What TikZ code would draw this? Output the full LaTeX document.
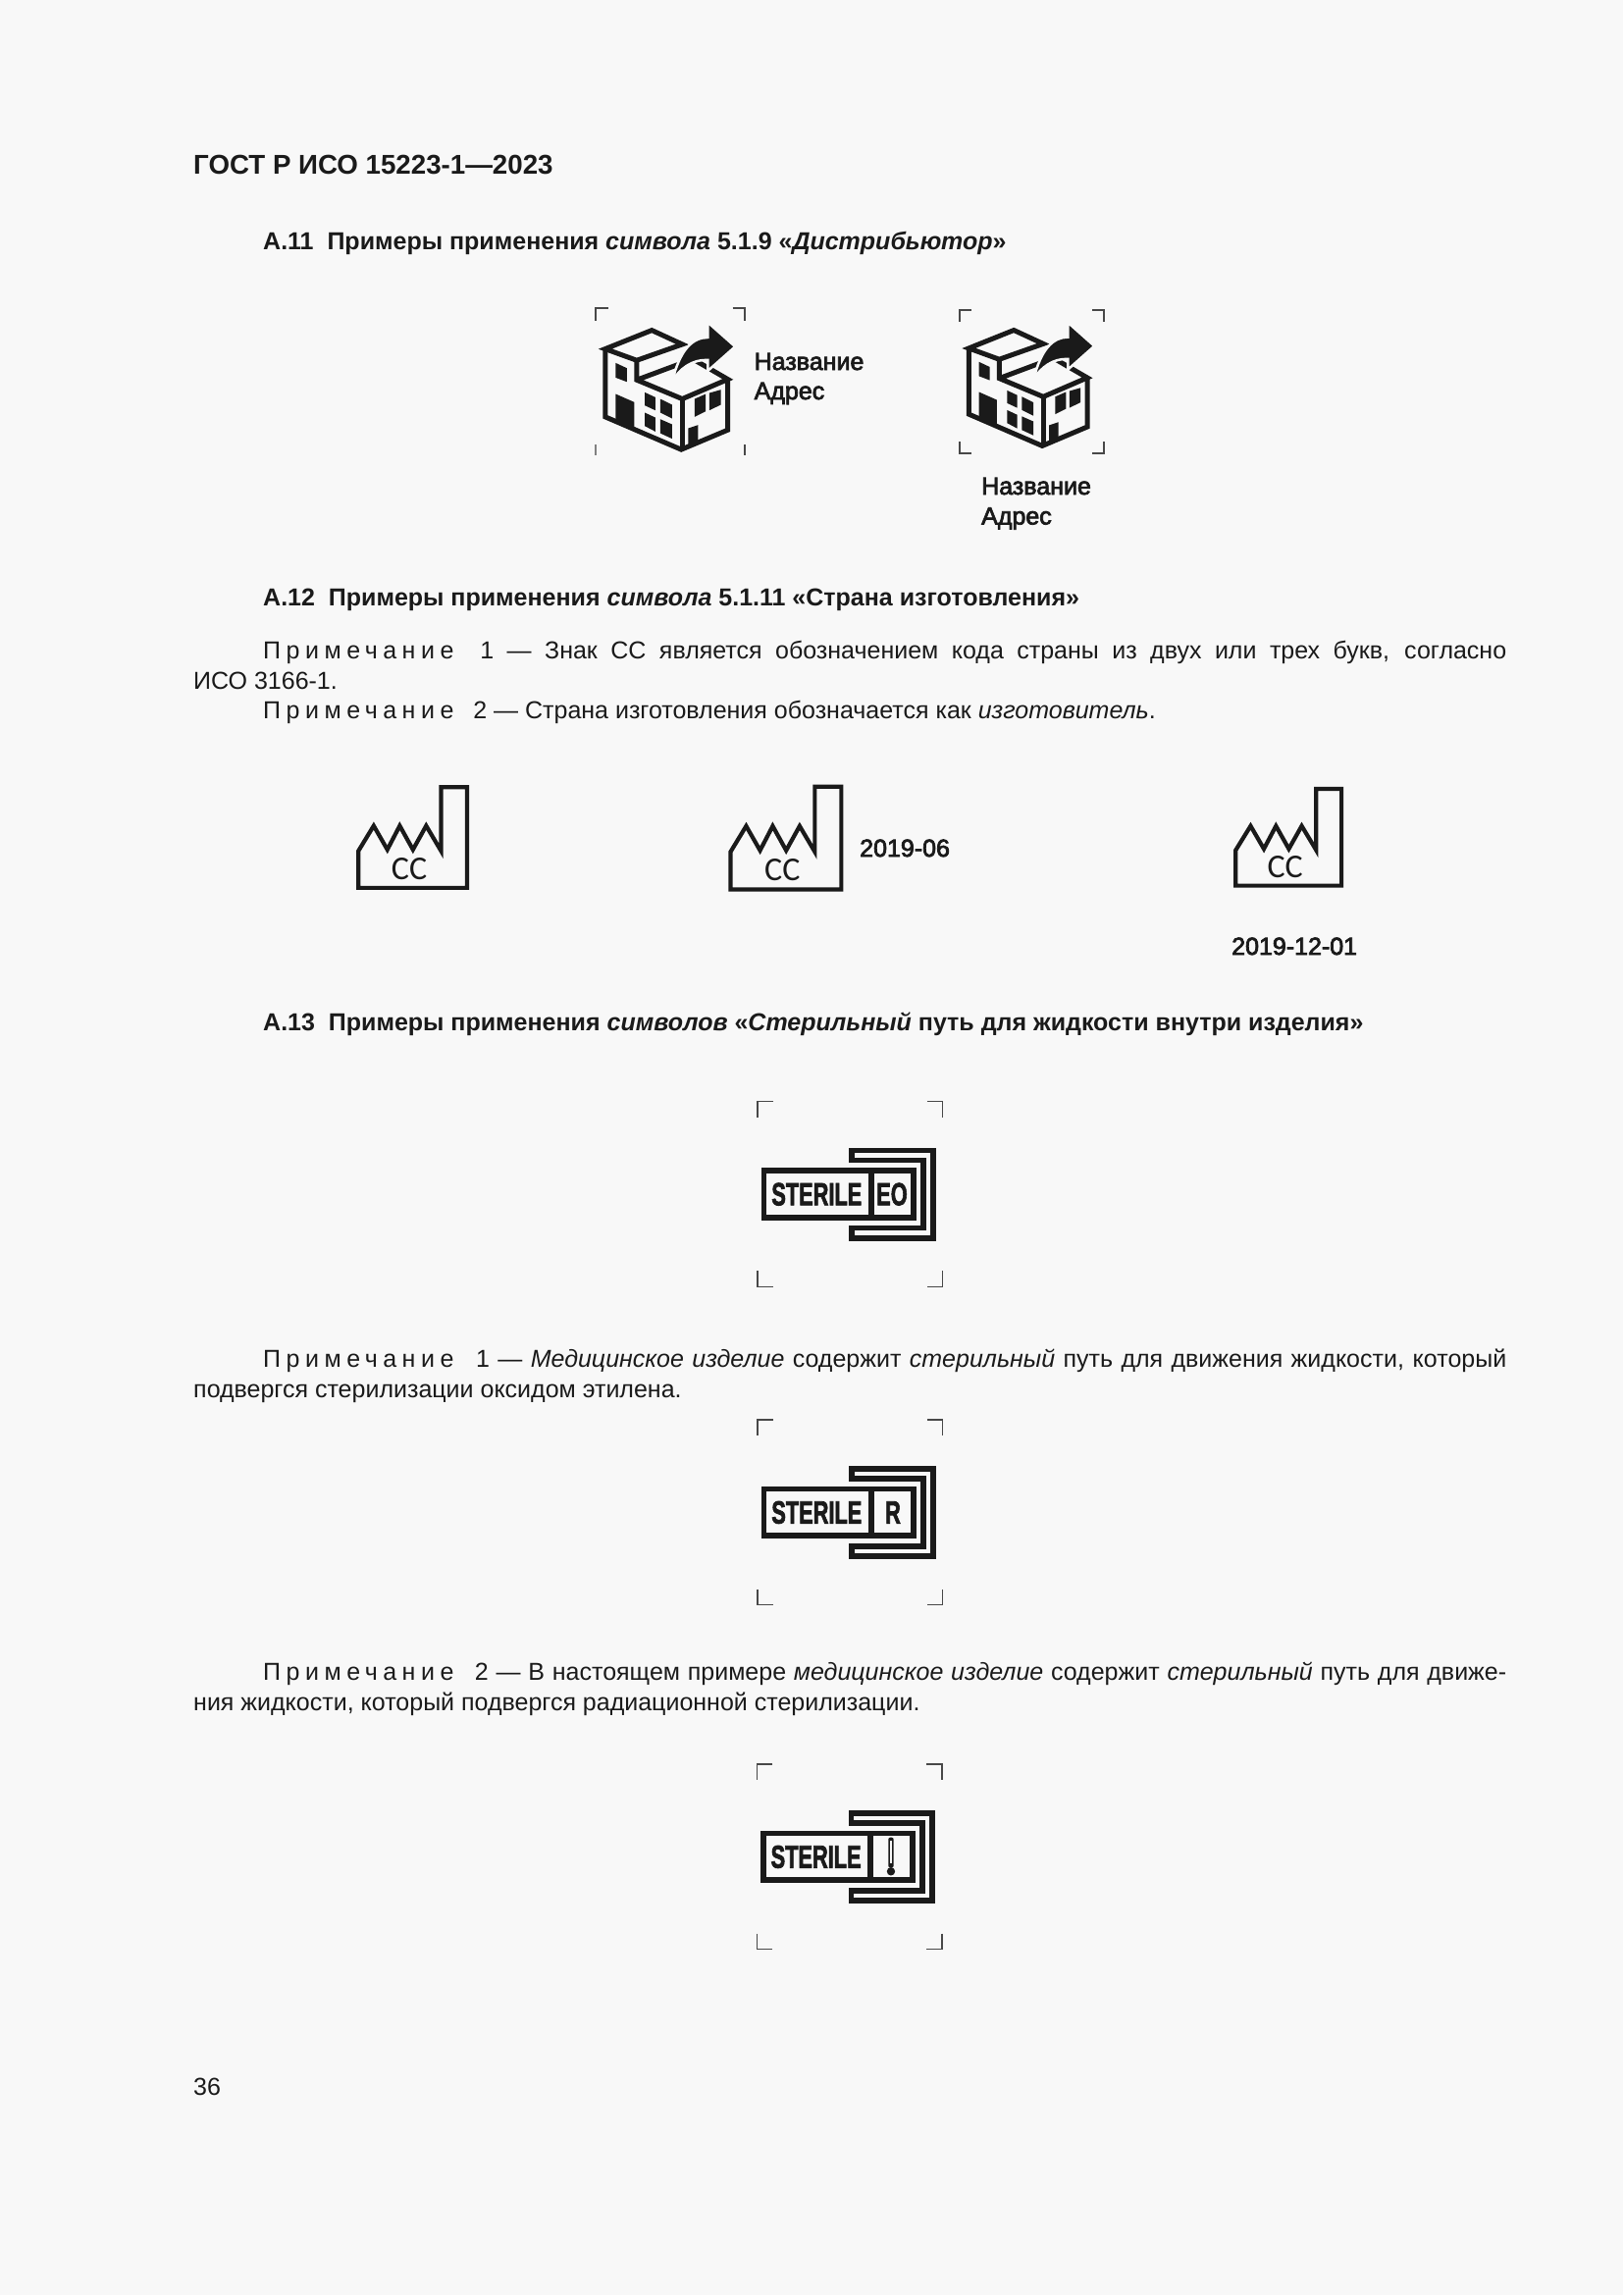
\documentclass[tikz,border=0pt]{standalone}
\usepackage{fontspec}
\setmainfont{Liberation Sans}
\newfontfamily\ccfont{Carlito}
\newfontfamily\heavyfont[FakeBold=3]{Liberation Sans}
\newfontfamily\sterfont[FakeBold=2.5]{Liberation Sans Bold}
\definecolor{inkc}{HTML}{1A1A1A}
\definecolor{paperc}{HTML}{F8F8F8}
\tikzset{
  txt/.style={anchor=base west,inner sep=0pt,text=inkc,font=\fontsize{25}{30}\selectfont},
  hdg/.style={txt,font=\fontsize{25}{30}\selectfont\bfseries},
  lbl/.style={txt,font=\fontsize{25}{30}\heavyfont},
  cropm/.style={draw=inkc!80,line width=1.6pt},
  iconline/.style={draw=inkc,line join=miter},
  iconfill/.style={fill=inkc,draw=none},
  sterbig/.style={anchor=base,inner sep=0pt,text=inkc,xscale=.67,transform shape,font=\fontsize{32.5}{32.5}\sterfont}
}
\newcommand{\prim}{{\addfontfeature{LetterSpace=22}Примечание}}
% x1 y1 x2 y2 arm
\newcommand{\cropsquare}[5]{
  \draw [cropm] (#1+#5,#2) -- (#1,#2) -- (#1,#2+#5);
  \draw [cropm] (#3-#5,#2) -- (#3,#2) -- (#3,#2+#5);
  \draw [cropm] (#1,#4-#5) -- (#1,#4) -- (#1+#5,#4);
  \draw [cropm] (#3,#4-#5) -- (#3,#4) -- (#3-#5,#4);
}
\newcommand{\distbuilding}{
  \draw [iconline,line width=5pt] (75,197) -- (208,140) -- (295,183) -- (165,232) -- cycle;
  \draw [iconline,line width=5pt] (165,232) -- (165,292) -- (295,350) -- (425,290) -- (325,228) -- (165,292);
  \draw [iconline,line width=5pt] (75,197) -- (75,405) -- (292,505) -- (425,445) -- (425,290);
  \draw [iconline,line width=5pt] (295,350) -- (295,505);
  \draw [iconfill,draw=paperc,fill=inkc,line width=2.5pt] (446,190) -- (368,116) -- (368,162)
    .. controls (325,162) and (288,198) .. (266,298)
    .. controls (285,258) and (325,228) .. (368,231) -- (368,264) -- cycle;
  \fill [inkc] (105,240) -- (137,256) -- (137,298) -- (105,285) -- cycle;
  \fill [inkc] (105,335) -- (158,360) -- (158,440) -- (105,415) -- cycle;
  \fill [inkc] (188,330) -- (218,345) -- (218,385) -- (188,370) -- cycle;
  \fill [inkc] (232,350) -- (266,368) -- (266,410) -- (232,392) -- cycle;
  \fill [inkc] (188,392) -- (218,407) -- (218,450) -- (188,433) -- cycle;
  \fill [inkc] (232,412) -- (266,428) -- (266,472) -- (232,455) -- cycle;
  \fill [inkc] (330,350) -- (362,335) -- (362,388) -- (330,405) -- cycle;
  \fill [inkc] (372,332) -- (405,322) -- (405,368) -- (372,385) -- cycle;
  \fill [inkc] (312,440) -- (340,430) -- (340,482) -- (312,495) -- cycle;
}
% #1 node name
\newcommand{\ccfactory}[1]{
  \draw [iconline,line width=4.2pt] (60,262) -- (97,185) -- (130,258) -- (160,185) -- (192,258)
    -- (224,185) -- (260,262) -- (260,67) -- (323,67) -- (323,375) -- (60,375) -- cycle;
  \node [inner sep=0pt,text=inkc,font=\fontsize{34}{34}\ccfont] (#1) at (183,316) {CC};
}
% #1 node name, #2 word in the small box
\newcommand{\sterilesign}[2]{
  \draw [iconline,line width=5.6pt] (354.5,247.5) -- (572.5,247.5) -- (572.5,454.5) -- (354.5,454.5)
    -- (354.5,485.5) -- (602.5,485.5) -- (602.5,217.5) -- (354.5,217.5) -- cycle;
  \draw [iconline,line width=5.6pt] (85.5,279.5) rectangle (542.5,422.5);
  \draw [iconline,line width=5.6pt] (413.5,279.5) -- (413.5,422.5);
  \node [sterbig] (#1) at (247,385) {STERILE};
  #2
  \cropsquare{66}{68}{632}{634}{48}
}
\begin{document}
\begin{tikzpicture}[x=1pt,y=-1pt]
  \useasboundingbox (0,0) rectangle (1654,2339);
  \fill [paperc] (0,0) rectangle (1654,2339);
  \node [hdg,font=\fontsize{27.7}{30}\selectfont\bfseries] (pagehead) at (197,177) {ГОСТ Р ИСО 15223-1—2023};
  \node [hdg] (headA) at (268,254) {А.11\ \ Примеры применения \textit{символа} 5.1.9 «\textit{Дистрибьютор}»};
  % distributor icons
  \begin{scope}[shift={(590,290)},x=.357pt,y=-.333pt]
    \distbuilding
  \end{scope}
  \begin{scope}[shift={(961.4,291.3)},x=.345pt,y=-.323pt]
    \distbuilding
  \end{scope}
  \draw [cropm] (619.5,314) -- (607,314) -- (607,327); \draw [cropm] (746.5,314) -- (759,314) -- (759,327);
  \draw [cropm,draw=inkc!55] (607,453) -- (607,464); \draw [cropm] (759,453) -- (759,464);
  \cropsquare{978}{316}{1125}{462}{12}
  \node [lbl] (nameA) at (768.5,377) {Название}; \node [lbl] (addrA) at (768.5,407) {Адрес};
  \node [lbl] (nameB) at (1000,504) {Название}; \node [lbl] (addrB) at (1000,534.5) {Адрес};
  \node [hdg] (headB) at (268,617.5) {А.12\ \ Примеры применения \textit{символа} 5.1.11 «Страна изготовления»};
  \node [txt] (noteA) at (268,671.5) {\hbox to 1267pt{\prim\ \ 1 — Знак СС является обозначением кода страны из двух или трех букв, согласно}};
  \node [txt] (noteAb) at (197,702) {ИСО 3166-1.};
  \node [txt] (noteB) at (268,732) {\prim\ \ \hspace{6pt}2 — Страна изготовления обозначается как \textit{изготовитель}.};
  % country of manufacture
  \begin{scope}[shift={(340,780)},x=.421pt,y=-.333pt]
    \ccfactory{ccA}
  \end{scope}
  \begin{scope}[shift={(718.8,779)},x=.429pt,y=-.34pt]
    \ccfactory{ccB}
  \end{scope}
  \begin{scope}[shift={(1234.7,782.6)},x=.41pt,y=-.32pt]
    \ccfactory{ccC}
  \end{scope}
  \node [lbl] (dateB) at (876,873) {2019-06};
  \node [lbl] (dateC) at (1255,973) {2019-12-01};
  \node [hdg] (headC) at (268,1050.5) {А.13\ \ Примеры применения \textit{символов} «\textit{Стерильный} путь для жидкости внутри изделия»};
  % sterile path
  \begin{scope}[shift={(750,1100)},x=.3333pt,y=-.3333pt]
    \sterilesign{sterA}{\node [sterbig] (boxA) at (477,385) {EO};}
  \end{scope}
  \node [txt] (noteC) at (268,1393) {\hbox to 1267pt{\prim\ \ \hspace{6pt}1 — \textit{Медицинское изделие} содержит \textit{стерильный} путь для движения жидкости, который}};
  \node [txt] (noteCb) at (197,1424.5) {подвергся стерилизации оксидом этилена.};
  \begin{scope}[shift={(750,1424.3)},x=.3333pt,y=-.3333pt]
    \sterilesign{sterB}{\node [sterbig] (boxB) at (480,385) {R};}
  \end{scope}
  \node [txt] (noteD) at (268,1712.5) {\hbox to 1267pt{\prim\ \ \hspace{6pt}2 — В настоящем примере \textit{медицинское изделие} содержит \textit{стерильный} путь для движе-}};
  \node [txt] (noteDb) at (197,1743) {ния жидкости, который подвергся радиационной стерилизации.};
  \begin{scope}[shift={(749.3,1775.3)},x=.3333pt,y=-.3333pt]
    \sterilesign{sterC}{
      \fill [inkc,rounded corners=2pt] (468,292) rectangle (484,385);
      \draw [paperc,line width=1.6pt] (476,302) -- (476,372);
      \fill [inkc] (476,396) circle [radius=4.2pt];}
  \end{scope}
  \node [txt] (pagenum) at (197,2135) {36};
\end{tikzpicture}
\end{document}
